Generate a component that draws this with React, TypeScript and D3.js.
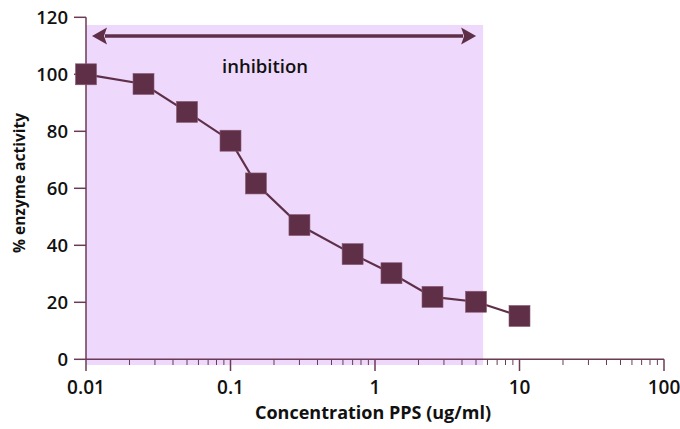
import React from "react";
import * as d3 from "d3";

const concentrations = [0.01, 0.025, 0.05, 0.1, 0.15, 0.3, 0.7, 1.3, 2.5, 5, 10];
const activity = [100, 96.6, 86.8, 76.7, 61.7, 47.1, 36.9, 30.2, 21.9, 20.2, 15.2];
const yTicks = [0, 20, 40, 60, 80, 100, 120];
const xTicks = [0.01, 0.1, 1, 10, 100];
const xTickLabels = ["0.01", "0.1", "1", "10", "100"];
const inhibitionRange = [0.01, 5.6];
const inhibitionLabel = "inhibition";
const xTitle = "Concentration PPS (ug/ml)";
const yTitle = "% enzyme activity";

const W = 680;
const H = 429;
const FONT = "'Open Sans', 'DejaVu Sans', sans-serif";
const DARK = "#5f2f48";
const AXIS = "#6b3b55";
const SHADE = "#eed9fd";

export default function App() {
  const x = d3.scaleLog().domain([0.01, 100]).range([86, 664]);
  const y = d3.scaleLinear().domain([0, 120]).range([359.3, 17.3]);

  const minor: number[] = [];
  for (let d = -2; d < 2; d++) {
    for (let m = 2; m <= 9; m++) minor.push(m * Math.pow(10, d));
  }

  const line = d3
    .line<number>()
    .x((_, i) => x(concentrations[i]))
    .y((v) => y(v));

  const ms = 21;
  const shadeX0 = x(inhibitionRange[0]);
  const shadeX1 = x(inhibitionRange[1]);
  const arrowY = 36;
  const ax0 = shadeX0 + 6;
  const ax1 = shadeX1 - 7;
  const ah = 15;

  return (
    <svg
      width={W}
      height={H}
      style={{ position: "absolute", left: 0, top: 0, display: "block" }}
      fontFamily={FONT}
    >
      <rect x={0} y={0} width={W} height={H} fill="#fff" />
      <rect x={shadeX0} y={25} width={shadeX1 - shadeX0} height={365 - 25} fill={SHADE} />

      {/* arrow */}
      <line x1={ax0 + ah - 2} y1={arrowY} x2={ax1 - ah + 2} y2={arrowY} stroke={DARK} strokeWidth={3.5} />
      <path d={`M${ax0},${arrowY} L${ax0 + ah},${arrowY - 8.5} L${ax0 + ah - 3},${arrowY} L${ax0 + ah},${arrowY + 8.5} Z`} fill={DARK} />
      <path d={`M${ax1},${arrowY} L${ax1 - ah},${arrowY - 8.5} L${ax1 - ah + 3},${arrowY} L${ax1 - ah},${arrowY + 8.5} Z`} fill={DARK} />
      <text x={265} y={73} textAnchor="middle" fontSize={18.5} fontWeight={600} fill="#111">
        {inhibitionLabel}
      </text>

      {/* y axis */}
      <line x1={86} y1={y(120)} x2={86} y2={y(0)} stroke={AXIS} strokeWidth={1.5} />
      {yTicks.map((t) => (
        <g key={t}>
          <line x1={74} y1={y(t)} x2={86} y2={y(t)} stroke={AXIS} strokeWidth={1.5} />
          <text x={68} y={y(t) + 6.5} textAnchor="end" fontSize={18.5} fontWeight={600} fill="#111">
            {t}
          </text>
        </g>
      ))}

      {/* x axis */}
      <line x1={86} y1={y(0)} x2={664} y2={y(0)} stroke={AXIS} strokeWidth={1.5} />
      {minor.map((t) => (
        <line key={t} x1={x(t)} y1={y(0)} x2={x(t)} y2={365} stroke={AXIS} strokeWidth={1} />
      ))}
      {xTicks.map((t, i) => (
        <g key={t}>
          <line x1={x(t)} y1={y(0)} x2={x(t)} y2={371} stroke={AXIS} strokeWidth={1.5} />
          <text x={x(t)} y={394} textAnchor="middle" fontSize={19} fontWeight={600} fill="#111">
            {xTickLabels[i]}
          </text>
        </g>
      ))}

      {/* titles */}
      <text x={373} y={419} textAnchor="middle" fontSize={18} fontWeight={700} fill="#111">
        {xTitle}
      </text>
      <text
        transform={`translate(25,183) rotate(-90)`}
        textAnchor="middle"
        fontSize={15.5}
        fontWeight={700}
        fill="#111"
      >
        {yTitle}
      </text>

      {/* series */}
      <path d={line(activity) || ""} fill="none" stroke={DARK} strokeWidth={2.2} />
      {activity.map((v, i) => (
        <rect
          key={i}
          x={x(concentrations[i]) - ms / 2}
          y={y(v) - ms / 2}
          width={ms}
          height={ms}
          fill={DARK}
          stroke="#8a5a74"
          strokeWidth={0.6}
        />
      ))}
    </svg>
  );
}
